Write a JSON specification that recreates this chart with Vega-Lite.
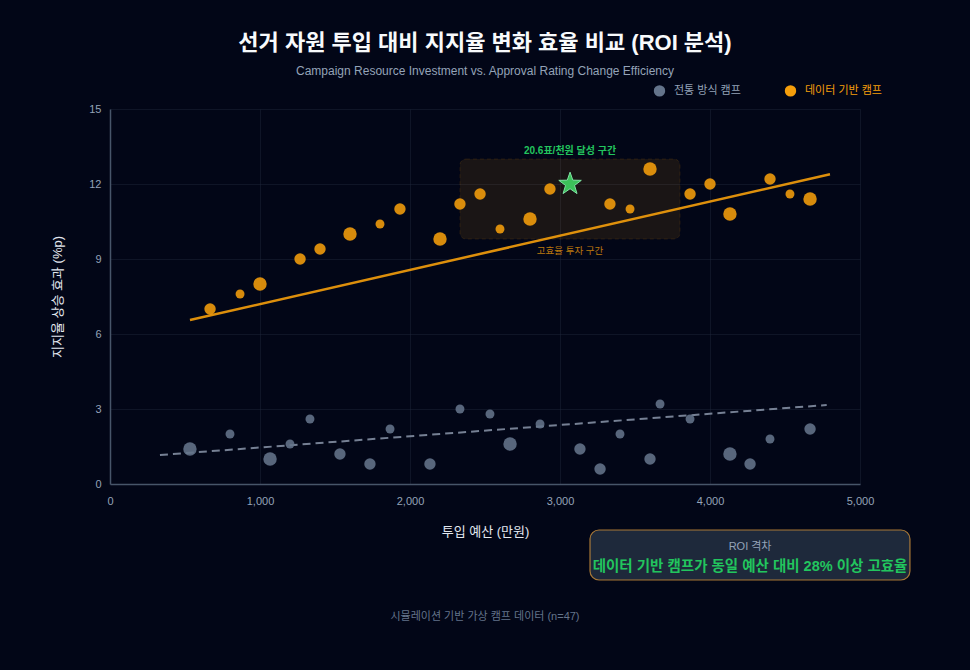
{
  "$schema": "https://vega.github.io/schema/vega-lite/v6.json",
  "width": 750,
  "height": 375,
  "autosize": {"type": "none"},
  "padding": {"left": 110, "top": 109, "right": 110, "bottom": 186},
  "background": "#020617",
  "title": {
    "text": "선거 자원 투입 대비 지지율 변화 효율 비교 (ROI 분석)",
    "subtitle": "Campaign Resource Investment vs. Approval Rating Change Efficiency",
    "anchor": "middle",
    "fontSize": 22,
    "fontWeight": "bold",
    "color": "#f8fafc",
    "subtitleFontSize": 12,
    "subtitleColor": "#94a3b8",
    "subtitlePadding": 11,
    "offset": 6
  },
  "datasets": {
    "camps": [
      {"camp": "전통 방식 캠프", "budget": 533, "gain": 1.4, "weight": 3},
      {"camp": "전통 방식 캠프", "budget": 800, "gain": 2.0, "weight": 1},
      {"camp": "전통 방식 캠프", "budget": 1067, "gain": 1.0, "weight": 3},
      {"camp": "전통 방식 캠프", "budget": 1200, "gain": 1.6, "weight": 1},
      {"camp": "전통 방식 캠프", "budget": 1333, "gain": 2.6, "weight": 1},
      {"camp": "전통 방식 캠프", "budget": 1533, "gain": 1.2, "weight": 2},
      {"camp": "전통 방식 캠프", "budget": 1733, "gain": 0.8, "weight": 2},
      {"camp": "전통 방식 캠프", "budget": 1867, "gain": 2.2, "weight": 1},
      {"camp": "전통 방식 캠프", "budget": 2133, "gain": 0.8, "weight": 2},
      {"camp": "전통 방식 캠프", "budget": 2333, "gain": 3.0, "weight": 1},
      {"camp": "전통 방식 캠프", "budget": 2533, "gain": 2.8, "weight": 1},
      {"camp": "전통 방식 캠프", "budget": 2667, "gain": 1.6, "weight": 3},
      {"camp": "전통 방식 캠프", "budget": 2867, "gain": 2.4, "weight": 1},
      {"camp": "전통 방식 캠프", "budget": 3133, "gain": 1.4, "weight": 2},
      {"camp": "전통 방식 캠프", "budget": 3267, "gain": 0.6, "weight": 2},
      {"camp": "전통 방식 캠프", "budget": 3400, "gain": 2.0, "weight": 1},
      {"camp": "전통 방식 캠프", "budget": 3600, "gain": 1.0, "weight": 2},
      {"camp": "전통 방식 캠프", "budget": 3667, "gain": 3.2, "weight": 1},
      {"camp": "전통 방식 캠프", "budget": 3867, "gain": 2.6, "weight": 1},
      {"camp": "전통 방식 캠프", "budget": 4133, "gain": 1.2, "weight": 3},
      {"camp": "전통 방식 캠프", "budget": 4267, "gain": 0.8, "weight": 2},
      {"camp": "전통 방식 캠프", "budget": 4400, "gain": 1.8, "weight": 1},
      {"camp": "전통 방식 캠프", "budget": 4667, "gain": 2.2, "weight": 2},
      {"camp": "데이터 기반 캠프", "budget": 667, "gain": 7.0, "weight": 2},
      {"camp": "데이터 기반 캠프", "budget": 867, "gain": 7.6, "weight": 1},
      {"camp": "데이터 기반 캠프", "budget": 1000, "gain": 8.0, "weight": 3},
      {"camp": "데이터 기반 캠프", "budget": 1267, "gain": 9.0, "weight": 2},
      {"camp": "데이터 기반 캠프", "budget": 1400, "gain": 9.4, "weight": 2},
      {"camp": "데이터 기반 캠프", "budget": 1600, "gain": 10.0, "weight": 3},
      {"camp": "데이터 기반 캠프", "budget": 1800, "gain": 10.4, "weight": 1},
      {"camp": "데이터 기반 캠프", "budget": 1933, "gain": 11.0, "weight": 2},
      {"camp": "데이터 기반 캠프", "budget": 2200, "gain": 9.8, "weight": 3},
      {"camp": "데이터 기반 캠프", "budget": 2333, "gain": 11.2, "weight": 2},
      {"camp": "데이터 기반 캠프", "budget": 2467, "gain": 11.6, "weight": 2},
      {"camp": "데이터 기반 캠프", "budget": 2600, "gain": 10.2, "weight": 1},
      {"camp": "데이터 기반 캠프", "budget": 2800, "gain": 10.6, "weight": 3},
      {"camp": "데이터 기반 캠프", "budget": 2933, "gain": 11.8, "weight": 2},
      {"camp": "데이터 기반 캠프", "budget": 3333, "gain": 11.2, "weight": 2},
      {"camp": "데이터 기반 캠프", "budget": 3467, "gain": 11.0, "weight": 1},
      {"camp": "데이터 기반 캠프", "budget": 3600, "gain": 12.6, "weight": 3},
      {"camp": "데이터 기반 캠프", "budget": 3867, "gain": 11.6, "weight": 2},
      {"camp": "데이터 기반 캠프", "budget": 4000, "gain": 12.0, "weight": 2},
      {"camp": "데이터 기반 캠프", "budget": 4133, "gain": 10.8, "weight": 3},
      {"camp": "데이터 기반 캠프", "budget": 4400, "gain": 12.2, "weight": 2},
      {"camp": "데이터 기반 캠프", "budget": 4533, "gain": 11.6, "weight": 1},
      {"camp": "데이터 기반 캠프", "budget": 4667, "gain": 11.4, "weight": 3}
    ],
    "trends": [
      {"camp": "전통 방식 캠프", "budget": 333, "gain": 1.16},
      {"camp": "전통 방식 캠프", "budget": 4778, "gain": 3.16},
      {"camp": "데이터 기반 캠프", "budget": 533, "gain": 6.56},
      {"camp": "데이터 기반 캠프", "budget": 4800, "gain": 12.39}
    ],
    "best": [{"budget": 3067, "gain": 12.0}],
    "zone": [{"budget": 2333, "budget2": 3800, "gain": 9.8, "gain2": 13.0}],
    "zoneLabels": [
      {"budget": 3067, "gain": 13.0, "text": "20.6표/천원 달성 구간", "kind": "top"},
      {"budget": 3067, "gain": 9.8, "text": "고효율 투자 구간", "kind": "bottom"}
    ],
    "roiBox": [{"budget": 3200, "budget2": 5333, "gain": -1.84, "gain2": -3.84}],
    "notes": [
      {"budget": 4267, "gain": -2.5, "text": "ROI 격차", "kind": "head"},
      {"budget": 4267, "gain": -3.3, "text": "데이터 기반 캠프가 동일 예산 대비 28% 이상 고효율", "kind": "body"},
      {"budget": 2500, "gain": -5.3, "text": "시뮬레이션 기반 가상 캠프 데이터 (n=47)", "kind": "footer"}
    ]
  },
  "encoding": {
    "x": {
      "field": "budget",
      "type": "quantitative",
      "scale": {"domain": [0, 5000], "nice": false},
      "title": "투입 예산 (만원)",
      "axis": {"values": [0, 1000, 2000, 3000, 4000, 5000], "labelExpr": "format(datum.value, ',')", "labelFlush": false, "labelPadding": 11, "titlePadding": 19}
    },
    "y": {
      "field": "gain",
      "type": "quantitative",
      "scale": {"domain": [0, 15], "nice": false},
      "title": "지지율 상승 효과 (%p)",
      "axis": {"values": [0, 3, 6, 9, 12, 15], "titlePadding": 24}
    }
  },
  "layer": [
    {
      "data": {"name": "zone"},
      "mark": {"type": "rect", "cornerRadius": 6, "fill": "#f59e0b", "fillOpacity": 0.1, "stroke": "#f59e0b", "strokeOpacity": 0.12, "strokeDash": [4, 3]},
      "encoding": {
        "x2": {"field": "budget2"},
        "y2": {"field": "gain2"}
      }
    },
    {
      "data": {"name": "zoneLabels"},
      "transform": [{"filter": "datum.kind === 'top'"}],
      "mark": {"type": "text", "color": "#22c55e", "fontSize": 10, "fontWeight": "bold", "baseline": "bottom", "dy": -3},
      "encoding": {"text": {"field": "text"}}
    },
    {
      "data": {"name": "zoneLabels"},
      "transform": [{"filter": "datum.kind === 'bottom'"}],
      "mark": {"type": "text", "color": "#f59e0b", "opacity": 0.75, "fontSize": 9.5, "baseline": "top", "dy": 7},
      "encoding": {"text": {"field": "text"}}
    },
    {
      "data": {"name": "trends"},
      "transform": [{"filter": "datum.camp === '전통 방식 캠프'"}],
      "mark": {"type": "line", "color": "#8b97aa", "strokeWidth": 2, "strokeDash": [8, 5], "opacity": 0.85},
      "encoding": {}
    },
    {
      "data": {"name": "trends"},
      "transform": [{"filter": "datum.camp === '데이터 기반 캠프'"}],
      "mark": {"type": "line", "color": "#f59e0b", "strokeWidth": 2.5, "opacity": 0.9},
      "encoding": {}
    },
    {
      "data": {"name": "camps"},
      "mark": {"type": "circle", "opacity": 0.88},
      "encoding": {
        "color": {
          "field": "camp",
          "type": "nominal",
          "scale": {"domain": ["전통 방식 캠프", "데이터 기반 캠프"], "range": ["#64748b", "#f59e0b"]},
          "legend": {
            "title": null,
            "orient": "none",
            "direction": "horizontal",
            "legendX": 543,
            "legendY": -25,
            "padding": 0,
            "symbolType": "circle",
            "symbolSize": 130,
            "symbolOpacity": 1,
            "labelFontSize": 11,
            "labelOffset": 8,
            "columnPadding": 43,
            "encode": {
              "labels": {
                "update": {
                  "fill": {"signal": "datum.value === '데이터 기반 캠프' ? '#f59e0b' : '#94a3b8'"}
                }
              }
            }
          }
        },
        "size": {
          "field": "weight",
          "type": "quantitative",
          "scale": {"domain": [1, 3], "range": [80, 180]},
          "legend": null
        }
      }
    },
    {
      "data": {"name": "best"},
      "mark": {
        "type": "point",
        "shape": "M0,-1L0.235,-0.324L0.951,-0.309L0.380,0.124L0.588,0.809L0,0.4L-0.588,0.809L-0.380,0.124L-0.951,-0.309L-0.235,-0.324Z",
        "filled": true,
        "size": 560,
        "color": "#3ecb5e",
        "opacity": 0.95,
        "stroke": "#86efac",
        "strokeWidth": 1
      },
      "encoding": {}
    },
    {
      "data": {"name": "roiBox"},
      "mark": {"type": "rect", "cornerRadius": 9, "fill": "#1e293b", "stroke": "#c2883a", "strokeWidth": 1.2, "strokeOpacity": 0.85},
      "encoding": {
        "x2": {"field": "budget2"},
        "y2": {"field": "gain2"}
      }
    },
    {
      "data": {"name": "notes"},
      "transform": [{"filter": "datum.kind === 'head'"}],
      "mark": {"type": "text", "color": "#94a3b8", "fontSize": 11},
      "encoding": {"text": {"field": "text"}}
    },
    {
      "data": {"name": "notes"},
      "transform": [{"filter": "datum.kind === 'body'"}],
      "mark": {"type": "text", "color": "#22c55e", "fontSize": 14.5, "fontWeight": "bold"},
      "encoding": {"text": {"field": "text"}}
    },
    {
      "data": {"name": "notes"},
      "transform": [{"filter": "datum.kind === 'footer'"}],
      "mark": {"type": "text", "color": "#64748b", "fontSize": 11},
      "encoding": {"text": {"field": "text"}}
    }
  ],
  "config": {
    "font": "Liberation Sans, Noto Sans CJK KR, sans-serif",
    "view": {"stroke": null},
    "axis": {
      "domainColor": "#475569",
      "domainWidth": 1.5,
      "ticks": false,
      "gridColor": "#1e293b",
      "gridOpacity": 0.45,
      "labelColor": "#94a3b8",
      "labelFontSize": 11,
      "labelPadding": 9,
      "titleColor": "#e2e8f0",
      "titleFontSize": 13,
      "titleFontWeight": "normal"
    },
    "legend": {"labelColor": "#94a3b8"}
  }
}
